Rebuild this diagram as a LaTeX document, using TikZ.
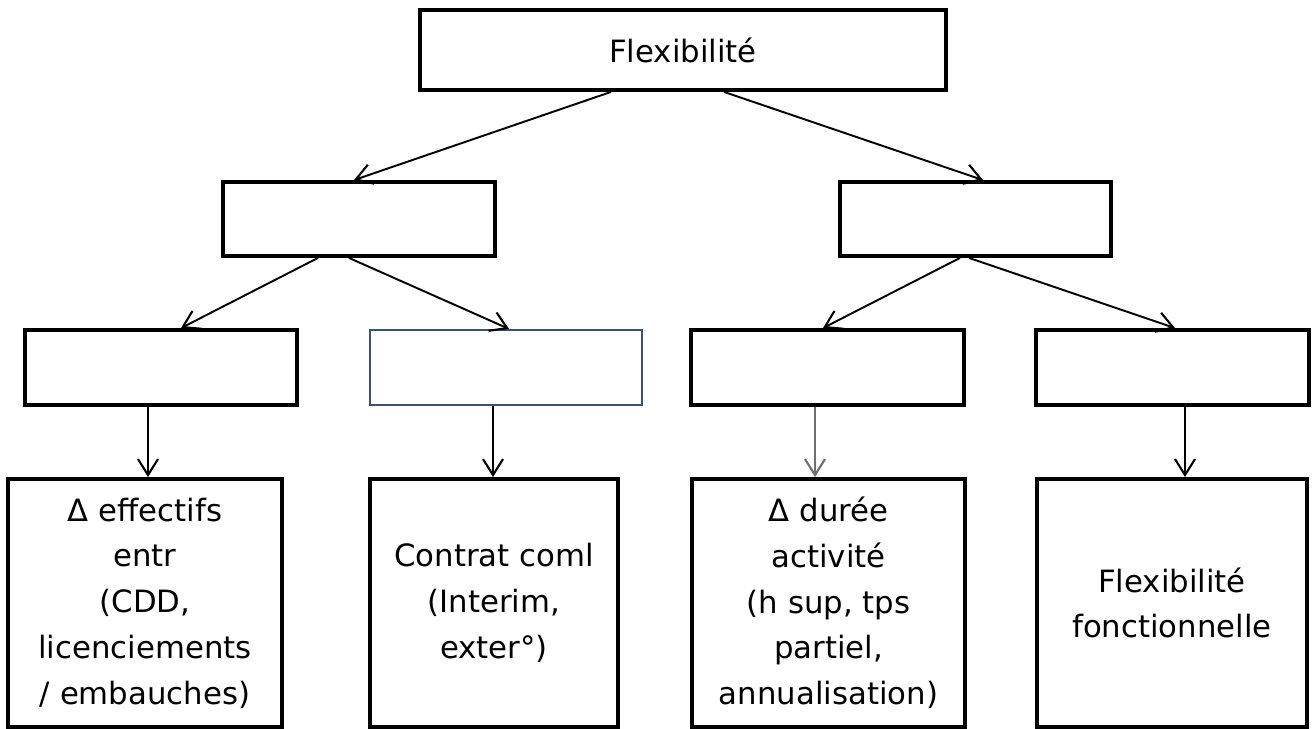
\documentclass[tikz,border=0pt]{standalone}
\usepackage{fontspec}
\setmainfont{DejaVu Sans}
\usepackage{tikz}
\usetikzlibrary{calc}
\usetikzlibrary{arrows.meta}
\usepackage{color}
\definecolor{slateedge}{RGB}{62, 82, 112}
\definecolor{ashgray}{RGB}{110, 110, 110}

\begin{document}
\begin{tikzpicture}[
    box/.style={draw=black, line width=2.2pt, fill=white, align=center,
                inner sep=0pt, font=\fontsize{17.5}{26}\selectfont},
    arr/.style={-{Straight Barb[length=3.2mm,width=4mm,line width=1.2pt]}, line width=1.1pt}
  ]
            \useasboundingbox (0.00, 0.00) rectangle (26.26, 14.58);
            % niveau 1
            \node[box, minimum width=10.52cm, minimum height=1.60cm] (flex) at (13.66, 13.58) {Flexibilité};
            % niveau 2
            \node[box, minimum width=5.44cm,  minimum height=1.48cm] (gauche) at ( 7.18, 10.20) {};
            \node[box, minimum width=5.42cm,  minimum height=1.48cm] (droite) at (19.51, 10.20) {};
            % niveau 3
            \node[box, minimum width=5.44cm,  minimum height=1.50cm] (ext)   at ( 3.22,  7.23) {};
            \node[box, minimum width=5.44cm,  minimum height=1.50cm,
                  draw=slateedge, line width=1.2pt]                  (sous)  at (10.12,  7.23) {};
            \node[box, minimum width=5.46cm,  minimum height=1.50cm] (temps) at (16.55,  7.23) {};
            \node[box, minimum width=5.46cm,  minimum height=1.50cm] (fonc)  at (23.45,  7.23) {};
            % niveau 4
            \node[box, minimum width=5.48cm,  minimum height=4.96cm] (effectifs) at ( 2.90,  2.52)
                 {Δ effectifs\\entr\\(CDD,\\licenciements\\/ embauches)};
            \node[box, minimum width=4.96cm,  minimum height=4.96cm] (contrat)   at ( 9.88,  2.52)
                 {Contrat coml\\(Interim,\\exter°)};
            \node[box, minimum width=5.46cm,  minimum height=4.96cm] (duree)     at (16.57,  2.52)
                 {Δ durée\\activité\\(h sup, tps\\partiel,\\annualisation)};
            \node[box, minimum width=5.40cm,  minimum height=4.96cm] (polyv)     at (23.44,  2.52)
                 {Flexibilité\\fonctionnelle};
            % fleches
            \draw[arr] ([xshift=-1.44cm]flex.south)   -- ([xshift=-0.10cm]gauche.north);
            \draw[arr] ([xshift= 0.82cm]flex.south)   -- ([xshift= 0.15cm]droite.north);
            \draw[arr] ([xshift=-0.82cm]gauche.south) -- ([xshift= 0.40cm]ext.north);
            \draw[arr] ([xshift=-0.20cm]gauche.south) -- ([xshift= 0.06cm]sous.north);
            \draw[arr] ([xshift=-0.31cm]droite.south) -- ([xshift=-0.09cm]temps.north);
            \draw[arr] ([xshift=-0.13cm]droite.south) -- ([xshift= 0.05cm]fonc.north);
            \draw[arr] ([xshift=-0.26cm]ext.south)    -- ([xshift=-0.26cm]ext.south |- effectifs.north);
            \draw[arr] ([xshift=-0.26cm]sous.south)   -- ([xshift=-0.26cm]sous.south |- contrat.north);
            \draw[arr, draw=ashgray] ([xshift=-0.25cm]temps.south) -- ([xshift=-0.25cm]temps.south |- duree.north);
            \draw[arr] ([xshift= 0.25cm]fonc.south)   -- ([xshift= 0.25cm]fonc.south |- polyv.north);
\end{tikzpicture}
\end{document}
